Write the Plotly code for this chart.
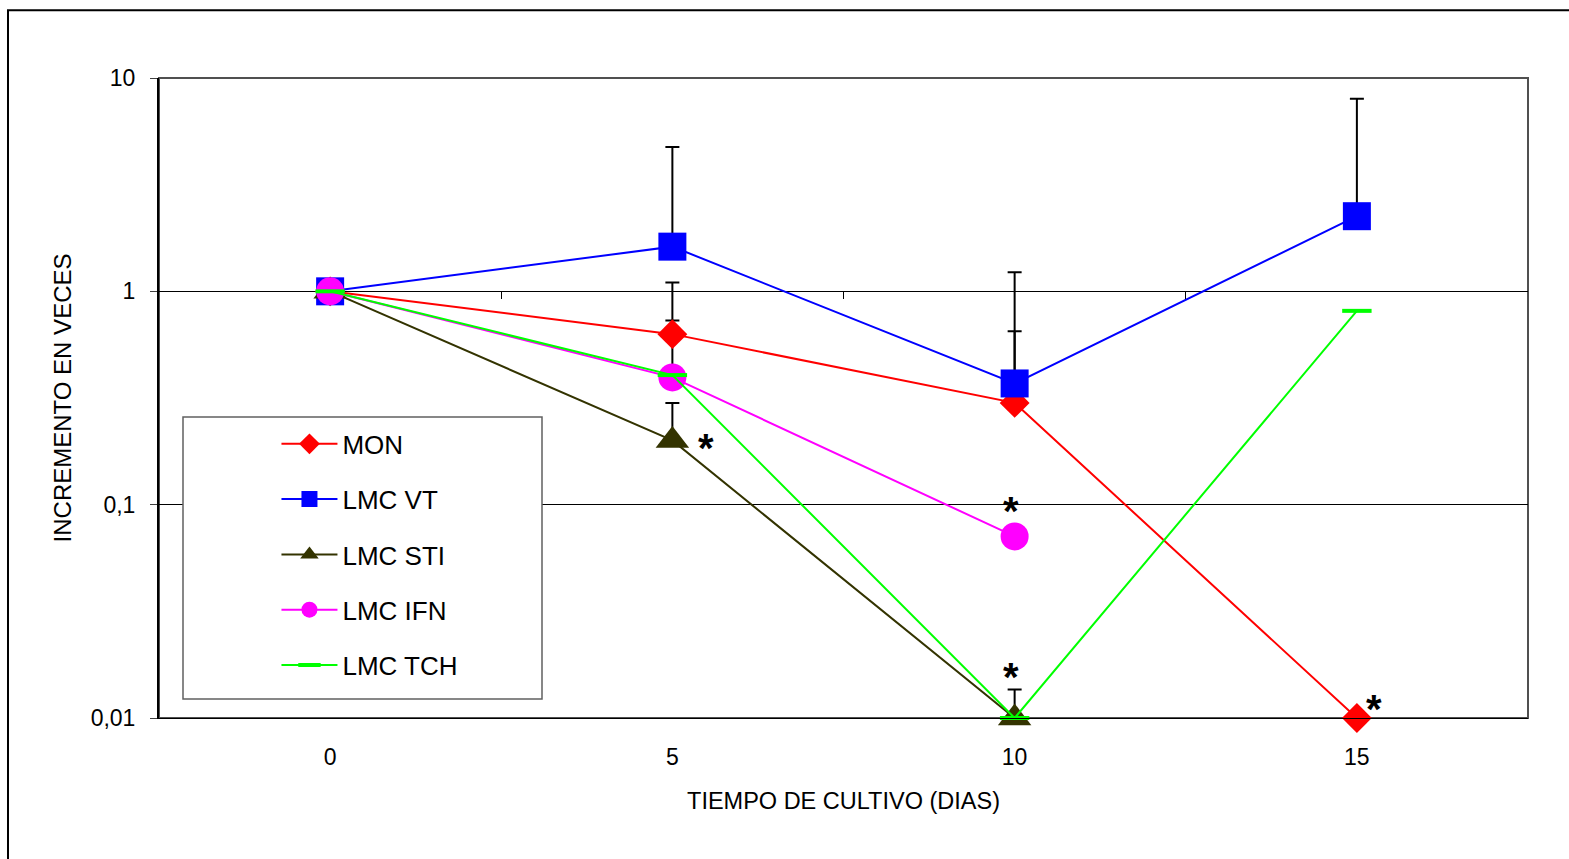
import plotly.graph_objects as go
import numpy as np

# ---------------- data ----------------
days = [0, 5, 10, 15]
series_names = ["MON", "LMC VT", "LMC STI", "LMC IFN", "LMC TCH"]
mon = [1.0, 0.63, 0.30, 0.01]
lmc_vt = [1.0, 1.62, 0.37, 2.25]
lmc_sti = [1.0, 0.20, 0.01, None]
lmc_ifn = [1.0, 0.395, 0.071, None]
lmc_tch = [1.0, 0.405, 0.01, 0.81]

# upper limit of error bars (None = no bar)
mon_upper = [None, 1.10, 0.65, None]
vt_upper = [None, 4.75, 1.23, 8.0]
sti_upper = [None, 0.30, 0.0136, None]
ifn_upper = [None, 0.73, None, None]
tch_upper = [None, None, None, None]

y_tickvals = [0.01, 0.1, 1, 10]
y_ticktext = ["0,01", "0,1", "1", "10"]
x_tickvals = [0, 5, 10, 15]
x_minor_ticks = [2.5, 7.5, 12.5]

# significance marks: (series index, day)
signif = [(2, 5), (3, 10), (2, 10), (0, 15)]

# ---------------- styles ----------------
values = [mon, lmc_vt, lmc_sti, lmc_ifn, lmc_tch]
uppers = [mon_upper, vt_upper, sti_upper, ifn_upper, tch_upper]
colors = ["#FF0000", "#0000FF", "#333300", "#FF00FF", "#00FF00"]
symbols = ["diamond", "square", "triangle-up", "circle", "line-ew"]
sizes = [23, 28, 29, 28, 21]

FONT = "Arial, Liberation Sans, sans-serif"

fig = go.Figure()

# error bars first (drawn beneath the markers)
for vals, ups in zip(values, uppers):
    ex, ey, eu = [], [], []
    for d, v, u in zip(days, vals, ups):
        if u is not None and v is not None:
            ex.append(d)
            ey.append(v)
            eu.append(u - v)
    if ex:
        fig.add_trace(go.Scatter(
            x=ex, y=ey, mode="markers", showlegend=False, hoverinfo="skip",
            marker=dict(size=1, opacity=0),
            error_y=dict(type="data", symmetric=False, array=eu,
                         arrayminus=[0] * len(eu), color="black",
                         thickness=2, width=7),
            cliponaxis=False,
        ))

for i, (name, vals) in enumerate(zip(series_names, values)):
    marker = dict(symbol=symbols[i], size=sizes[i], color=colors[i],
                  line=dict(width=0))
    if symbols[i] == "line-ew":
        marker["line"] = dict(color=colors[i], width=4)
    fig.add_trace(go.Scatter(
        x=days, y=vals, name=name, mode="lines+markers",
        line=dict(color=colors[i], width=2),
        marker=marker, cliponaxis=False, connectgaps=False,
        legendgroup=name,
    ))

# invisible trace for the secondary (tick-only) x axis
fig.add_trace(go.Scatter(x=[], y=[], xaxis="x2", showlegend=False,
                         hoverinfo="skip"))

# asterisks
shifts = [(34, -8), (-4, 25), (-4, 41), (17, 9)]
for (si, d), (dx, dy) in zip(signif, shifts):
    yv = values[si][days.index(d)]
    fig.add_annotation(x=d, y=np.log10(yv), text="<b>*</b>", showarrow=False,
                       xshift=dx, yshift=dy,
                       font=dict(family=FONT, size=40, color="black"))

xrange = [-2.5, 17.5]
fig.update_layout(
    width=1569, height=859,
    margin=dict(l=159, r=41, t=78, b=141),
    paper_bgcolor="white", plot_bgcolor="white",
    font=dict(family=FONT, color="black", size=23),
    showlegend=True,
    legend=dict(x=0.0858, y=0.465, xanchor="left", yanchor="top",
                bgcolor="rgba(0,0,0,0)", borderwidth=0,
                font=dict(family=FONT, size=26, color="black"),
                tracegroupgap=18.5, traceorder="grouped", itemwidth=56),
    xaxis=dict(range=xrange, tickvals=x_tickvals, ticks="", showgrid=False,
               zeroline=False, showline=True, linecolor="black", linewidth=1,
               ticklabelstandoff=18, tickfont=dict(size=23),
               title=dict(text="TIEMPO DE CULTIVO (DIAS)", standoff=23,
                          font=dict(size=23.5))),
    xaxis2=dict(range=xrange, overlaying="x", anchor="free", position=2 / 3,
                tickvals=x_minor_ticks, ticks="outside", ticklen=7,
                tickcolor="black", tickwidth=1, showticklabels=False,
                showgrid=False, zeroline=False, showline=False),
    yaxis=dict(type="log", range=[-2, 1], tickvals=y_tickvals,
               ticktext=y_ticktext, ticks="outside", ticklen=7,
               tickcolor="#404040", showgrid=True, gridcolor="black",
               gridwidth=1, zeroline=False, showline=True, linecolor="black",
               linewidth=2, ticklabelstandoff=10, tickfont=dict(size=23),
               title=dict(text="INCREMENTO EN VECES", standoff=12,
                          font=dict(size=24))),
)

# plot-area frame (top/right) and outer chart frame
fig.add_shape(type="rect", xref="paper", yref="paper", x0=0, y0=0, x1=1, y1=1,
              line=dict(color="#505050", width=2), layer="below")
fig.add_shape(type="rect", xref="paper", yref="paper",
              x0=-0.1103, y0=-0.225, x1=1.032, y1=1.106,
              line=dict(color="black", width=2), layer="below")
# legend box
fig.add_shape(type="rect", xref="paper", yref="paper",
              x0=(183 - 159) / 1369, x1=(542 - 159) / 1369,
              y0=(718 - 699) / 640, y1=(718 - 417) / 640,
              line=dict(color="#606060", width=1.5), fillcolor="white",
              layer="above")

fig.write_html("out.html")
